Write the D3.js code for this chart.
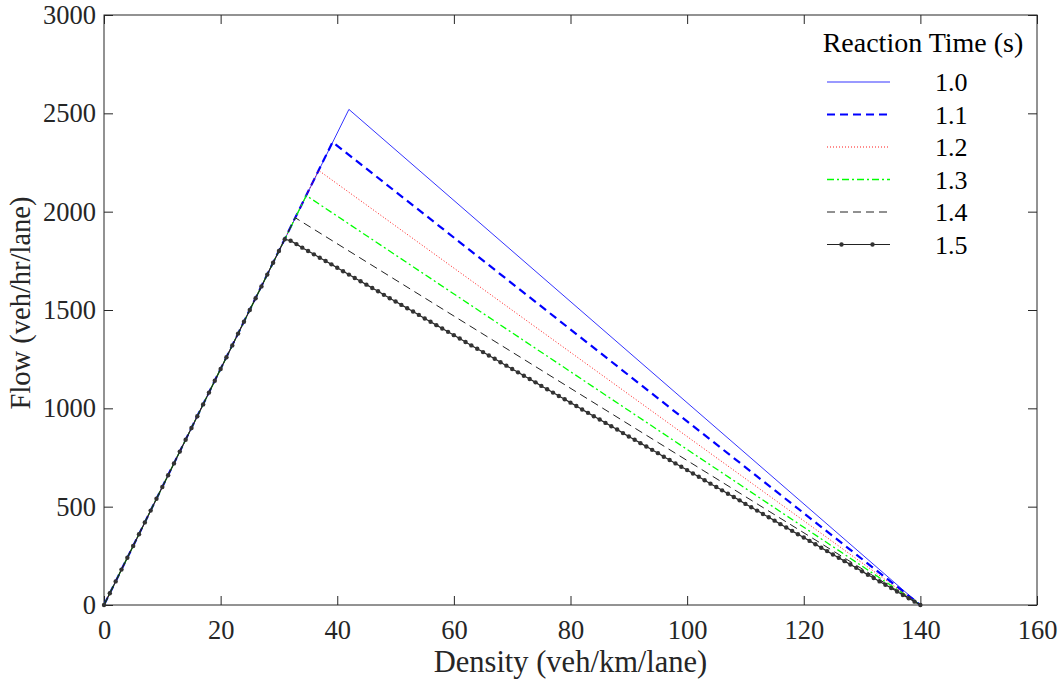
<!DOCTYPE html>
<html>
<head>
<meta charset="utf-8">
<script src="https://cdn.jsdelivr.net/npm/d3@7"></script>
<style>
  body { margin: 0; background: #fff; }
</style>
</head>
<body>
<div id="chart"></div>
<script>
// reaction time (s) series, triangular flow-density diagram
const reactionTimes = ['1.0', '1.1', '1.2', '1.3', '1.4', '1.5'];

// vertices: [density, flow]
const rt10 = [[0, 0], [42.0, 2520], [140, 0]];
const rt11 = [[0, 0], [39.2, 2354], [140, 0]];
const rt12 = [[0, 0], [36.8, 2210], [140, 0]];
const rt13 = [[0, 0], [34.7, 2082], [140, 0]];
const rt14 = [[0, 0], [32.8, 1969], [140, 0]];

// 1.5 s is plotted with a marker at every integer density 0..140
const rt15Density = d3.range(0, 141);
const rt15Flow = [
  0, 60, 120, 180, 240, 300, 360, 420, 480, 540,
  600, 660, 720, 780, 840, 900, 960, 1020, 1080, 1140,
  1200, 1260, 1320, 1380, 1440, 1500, 1560, 1620, 1680, 1740,
  1800, 1860, 1852, 1835, 1817, 1800, 1783, 1766, 1749, 1732,
  1715, 1697, 1680, 1663, 1646, 1629, 1612, 1595, 1577, 1560,
  1543, 1526, 1509, 1492, 1475, 1457, 1440, 1423, 1406, 1389,
  1372, 1355, 1337, 1320, 1303, 1286, 1269, 1252, 1234, 1217,
  1200, 1183, 1166, 1149, 1132, 1114, 1097, 1080, 1063, 1046,
  1029, 1012, 994, 977, 960, 943, 926, 909, 892, 874,
  857, 840, 823, 806, 789, 772, 754, 737, 720, 703,
  686, 669, 652, 634, 617, 600, 583, 566, 549, 532,
  514, 497, 480, 463, 446, 429, 411, 394, 377, 360,
  343, 326, 309, 291, 274, 257, 240, 223, 206, 189,
  171, 154, 137, 120, 103, 86, 69, 51, 34, 17,
  0,
];
const rt15 = rt15Density.map((d, i) => [d, rt15Flow[i]]);

const xTicks = [0, 20, 40, 60, 80, 100, 120, 140, 160];
const yTicks = [0, 500, 1000, 1500, 2000, 2500, 3000];

const seriesData = [rt10, rt11, rt12, rt13, rt14, rt15];
const styles = [
  { color: '#0000ff', width: 1, dash: null, opacity: 0.8 },
  { color: '#0000ff', width: 2.2, dash: '8,5', opacity: 1 },
  { color: '#ff0000', width: 1, dash: '1,2', opacity: 0.9 },
  { color: '#00ff00', width: 1.3, dash: '7,3,2,3', opacity: 1 },
  { color: '#222222', width: 1, dash: '8,5', opacity: 1 },
  { color: '#222222', width: 1.2, dash: null, opacity: 1, marker: true },
];

const width = 1064;
const height = 684;
const margin = { top: 15, right: 27, bottom: 79, left: 104 };
const ink = '#262626';
const serif = '"Liberation Serif", "Times New Roman", serif';

const svg = d3.select('#chart')
  .append('svg')
  .attr('width', width)
  .attr('height', height);

const x = d3.scaleLinear().domain([0, 160]).range([margin.left, width - margin.right]);
const y = d3.scaleLinear().domain([0, 3000]).range([height - margin.bottom, margin.top]);

const tickLen = 9;
const fmt = d3.format('d');

// frame with mirrored inward ticks
const g = svg.append('g');
g.append('g')
  .attr('transform', `translate(0,${y(0)})`)
  .call(d3.axisBottom(x).tickValues(xTicks).tickFormat(fmt)
    .tickSizeInner(-tickLen).tickSizeOuter(0).tickPadding(15))
  .call((a) => a.select('.domain').remove());
g.append('g')
  .attr('transform', `translate(0,${y(3000)})`)
  .call(d3.axisTop(x).tickValues(xTicks).tickSizeInner(-tickLen).tickSizeOuter(0).tickFormat(''))
  .call((a) => a.select('.domain').remove());
g.append('g')
  .attr('transform', `translate(${x(0)},0)`)
  .call(d3.axisLeft(y).tickValues(yTicks).tickFormat(fmt)
    .tickSizeInner(-tickLen).tickSizeOuter(0).tickPadding(8))
  .call((a) => a.select('.domain').remove());
g.append('g')
  .attr('transform', `translate(${x(160)},0)`)
  .call(d3.axisRight(y).tickValues(yTicks).tickSizeInner(-tickLen).tickSizeOuter(0).tickFormat(''))
  .call((a) => a.select('.domain').remove());

g.selectAll('.tick line').attr('stroke', ink).attr('stroke-width', 1);
g.selectAll('.tick text')
  .attr('fill', ink)
  .style('font-size', '26.5px')
  .style('font-family', serif);

g.append('rect')
  .attr('x', x(0))
  .attr('y', y(3000))
  .attr('width', x(160) - x(0))
  .attr('height', y(0) - y(3000))
  .attr('fill', 'none')
  .attr('stroke', ink)
  .attr('stroke-width', 1);

// axis titles
svg.append('text')
  .attr('x', (x(0) + x(160)) / 2)
  .attr('y', 672)
  .attr('text-anchor', 'middle')
  .style('font-family', serif)
  .style('font-size', '30.5px')
  .attr('fill', ink)
  .text('Density (veh/km/lane)');

svg.append('text')
  .attr('transform', 'translate(30,303) rotate(-90)')
  .attr('text-anchor', 'middle')
  .style('font-family', serif)
  .style('font-size', '28.5px')
  .attr('fill', ink)
  .text('Flow (veh/hr/lane)');

// series
const line = d3.line().x((d) => x(d[0])).y((d) => y(d[1]));

seriesData.forEach((data, i) => {
  const s = styles[i];
  svg.append('path')
    .datum(data)
    .attr('d', line)
    .attr('fill', 'none')
    .attr('stroke', s.color)
    .attr('stroke-opacity', s.opacity)
    .attr('stroke-width', s.width)
    .attr('stroke-dasharray', s.dash);
  if (s.marker) {
    svg.append('g')
      .selectAll('circle')
      .data(data)
      .join('circle')
      .attr('cx', (d) => x(d[0]))
      .attr('cy', (d) => y(d[1]))
      .attr('r', 2.2)
      .attr('fill', '#333');
  }
});

// legend
const legend = svg.append('g');
legend.append('text')
  .attr('x', 923)
  .attr('y', 52)
  .attr('text-anchor', 'middle')
  .style('font-family', serif)
  .style('font-size', '28px')
  .attr('fill', '#000')
  .text('Reaction Time (s)');

const rows = legend.selectAll('.row')
  .data(reactionTimes)
  .join('g')
  .attr('class', 'row')
  .attr('transform', (_, i) => `translate(0,${82 + i * 32.5})`);

rows.append('line')
  .attr('x1', 827)
  .attr('x2', 890)
  .attr('stroke', (_, i) => styles[i].color)
  .attr('stroke-opacity', (_, i) => styles[i].opacity)
  .attr('stroke-width', (_, i) => styles[i].width)
  .attr('stroke-dasharray', (_, i) => styles[i].dash);

rows.filter((_, i) => styles[i].marker)
  .selectAll('circle')
  .data([841.5, 872.5])
  .join('circle')
  .attr('cx', (d) => d)
  .attr('r', 2.2)
  .attr('fill', '#333');

rows.append('text')
  .attr('x', 935)
  .attr('y', 9)
  .style('font-family', serif)
  .style('font-size', '26px')
  .attr('fill', '#000')
  .text((d) => d);
</script>
</body>
</html>
